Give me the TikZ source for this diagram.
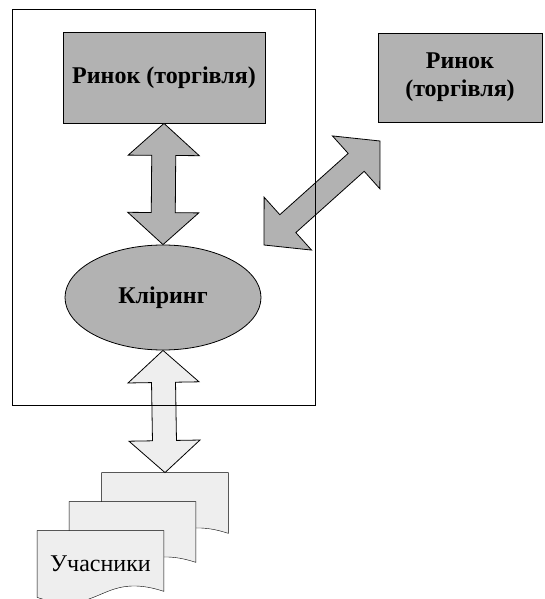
\documentclass[tikz,border=0pt]{standalone}
\usepackage{fontspec}
\setmainfont{Liberation Serif}
\usetikzlibrary{calc,shapes.geometric,backgrounds}

\definecolor{darkfill}{HTML}{B2B2B2}
\definecolor{lightfill}{HTML}{EEEEEE}

\tikzset{
  box/.style={draw, fill=darkfill, align=center, inner sep=0pt, font=\bfseries\fontsize{24}{28}\selectfont},
  oval/.style={ellipse, draw, fill=darkfill, inner sep=0pt, font=\bfseries\fontsize{24}{28}\selectfont},
  page/.style={minimum width=126pt, minimum height=66pt, inner sep=0pt, font=\fontsize{24}{28}\selectfont},
  frame/.style={draw, minimum width=303pt, minimum height=396pt},
}

% block arrow with a head at both ends: fill, first tip, second tip
\newcommand{\blockarrow}[3]{%
  \coordinate (ha) at ($(#2)!32pt!(#3)$);
  \coordinate (hb) at ($(#3)!32pt!(#2)$);
  \draw[fill=#1] (#2) -- ($(ha)!35.5pt!90:(#2)$) -- ($(ha)!12pt!90:(#2)$)
    -- ($(hb)!12pt!-90:(#3)$) -- ($(hb)!35.5pt!-90:(#3)$) -- (#3)
    -- ($(hb)!35.5pt!90:(#3)$) -- ($(hb)!12pt!90:(#3)$)
    -- ($(ha)!12pt!-90:(#2)$) -- ($(ha)!35.5pt!-90:(#2)$) -- cycle;
}
% sheet with a wavy lower edge round a node
\newcommand{\sheet}[1]{%
  \draw[fill=lightfill] (#1.north west) -- (#1.north east) -- ($(#1.south east)+(0,-6)$)
    .. controls ($(#1.south)+(0,-27)$) and ($(#1.south)+(0,21)$) .. (#1.south west) -- cycle;
}

\begin{document}
\begin{tikzpicture}[x=1pt, y=-1pt, line width=0.8pt]
\useasboundingbox (0,0) rectangle (544,599);

\node (market) at (164,77.5) [box, minimum width=202pt, minimum height=91pt] {Ринок (торгівля)};
\node (market out) at (460,77.5) [box, minimum width=164pt, minimum height=89pt] {Ринок\\(торгівля)};
\node (clearing) at (163,297.5) [oval, minimum width=196pt, minimum height=105pt] {Кліринг};

% participants
\node (members back) at (165,506) [page] {};
\node (members mid) at (132.5,535) [page] {};
\node (members) at (100.5,564) [page] {Учасники};
\begin{scope}[on background layer]
\sheet{members back}
\sheet{members mid}
\sheet{members}
\end{scope}

\blockarrow{darkfill}{market.south}{clearing.north}
\blockarrow{lightfill}{clearing.south}{members back.north}

\coordinate (link low) at (264,245);
\coordinate (link high) at (380,141);
\blockarrow{darkfill}{link low}{link high}

\node (system) at (163.5,207) [frame] {};
\end{tikzpicture}
\end{document}
